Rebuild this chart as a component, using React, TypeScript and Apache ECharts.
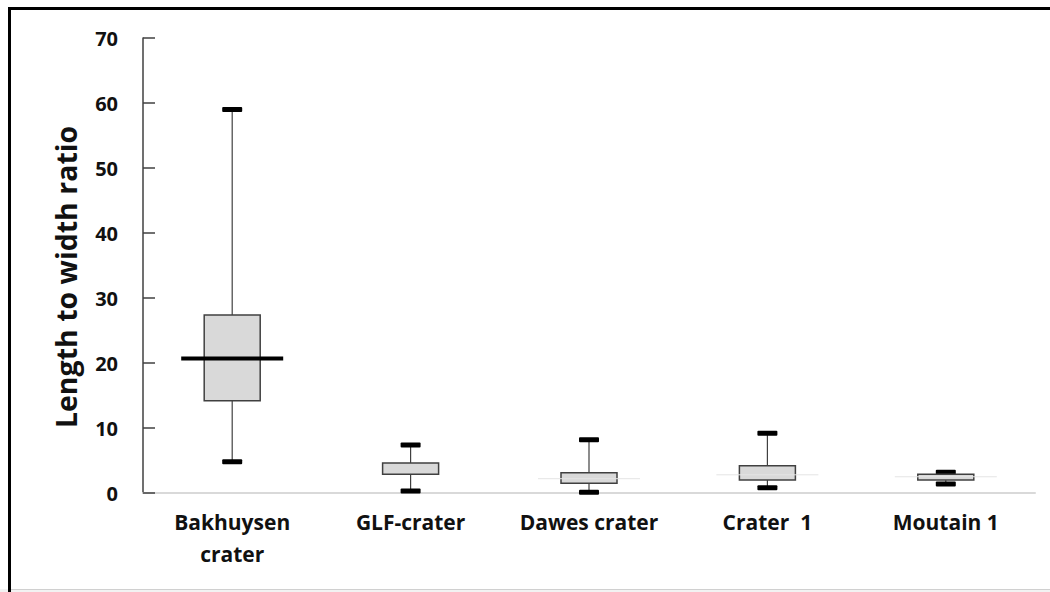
import React, { useEffect, useRef } from "react";
import * as echarts from "echarts";

const categories = ["Bakhuysen\ncrater", "GLF-crater", "Dawes crater", "Crater  1", "Moutain 1"];
const minValues = [4.8, 0.3, 0.1, 0.8, 1.4];
const q1Values = [14.2, 2.9, 1.5, 2.0, 2.0];
const medianValues = [20.7, 3.8, 2.2, 2.8, 2.5];
const q3Values = [27.4, 4.6, 3.1, 4.2, 2.9];
const maxValues = [59.0, 7.4, 8.2, 9.2, 3.2];
const yTicks = [0, 10, 20, 30, 40, 50, 60, 70];
const yTitle = "Length to width ratio";

const medianColors = ["#000000", "rgba(0,0,0,0)", "#e4e4e4", "#e4e4e4", "#e4e4e4"];
const medianWidths = [4, 1, 1, 1, 1];

export default function App() {
  const ref = useRef<HTMLDivElement>(null);
  useEffect(() => {
    if (!ref.current) return;
    const chart = echarts.init(ref.current, null, { renderer: "svg" });
    const data = categories.map((_, i) => [i, minValues[i], q1Values[i], medianValues[i], q3Values[i], maxValues[i]]);
    const font = "'Open Sans', sans-serif";
    chart.setOption({
      animation: false,
      backgroundColor: "#ffffff",
      grid: { left: 143, right: 15, top: 38, bottom: 99, containLabel: false },
      xAxis: {
        type: "category",
        data: categories,
        axisLine: { show: true, lineStyle: { color: "#d9d9d9", width: 2 } },
        axisTick: { show: false },
        axisLabel: {
          color: "#111111",
          fontFamily: font,
          fontWeight: "bold",
          fontSize: 21,
          lineHeight: 32,
          margin: 13,
          interval: 0,
        },
        splitLine: { show: false },
      },
      yAxis: {
        type: "value",
        min: yTicks[0],
        max: yTicks[yTicks.length - 1],
        interval: 10,
        axisLine: { show: true, lineStyle: { color: "#404040", width: 1.5 } },
        axisTick: { show: true, inside: true, length: 12, lineStyle: { color: "#404040", width: 1.5 } },
        axisLabel: {
          color: "#111111",
          fontFamily: font,
          fontWeight: "bold",
          fontSize: 20,
          margin: 25,
        },
        splitLine: { show: false },
      },
      graphic: [
        {
          type: "text",
          x: 66,
          y: 277,
          rotation: Math.PI / 2,
          style: {
            text: yTitle,
            fill: "#111111",
            font: "bold 28.5px 'Open Sans', sans-serif",
            textAlign: "center",
            textVerticalAlign: "middle",
          },
          z: 50,
        },
        { type: "rect", shape: { x: 0, y: 589, width: 1050, height: 3 }, style: { fill: "#f2f2f2" }, z: 100 },
        { type: "rect", shape: { x: 8, y: 589, width: 1042, height: 1 }, style: { fill: "#d0d0d0" }, z: 100 },
        { type: "rect", shape: { x: 8, y: 7, width: 1042, height: 3 }, style: { fill: "#000000" }, z: 101 },
        { type: "rect", shape: { x: 8, y: 7, width: 3, height: 585 }, style: { fill: "#000000" }, z: 101 },
      ],
      series: [
        {
          type: "custom",
          encode: { x: 0, y: [1, 2, 3, 4, 5] },
          data,
          renderItem: (params: any, api: any) => {
            const i = api.value(0);
            const pMin = api.coord([i, api.value(1)]);
            const pQ1 = api.coord([i, api.value(2)]);
            const pMed = api.coord([i, api.value(3)]);
            const pQ3 = api.coord([i, api.value(4)]);
            const pMax = api.coord([i, api.value(5)]);
            const cx = pMin[0];
            const boxW = 56;
            const capW = 20;
            const capH = 5;
            const medW = 102;
            const idx = params.dataIndex;
            return {
              type: "group",
              children: [
                {
                  type: "line",
                  shape: { x1: cx, y1: pMax[1], x2: cx, y2: pMin[1] },
                  style: { stroke: "#404040", lineWidth: 1.2 },
                },
                {
                  type: "rect",
                  shape: { x: cx - capW / 2, y: pMax[1] - capH / 2, width: capW, height: capH, r: 1 },
                  style: { fill: "#000000" },
                },
                {
                  type: "rect",
                  shape: { x: cx - capW / 2, y: pMin[1] - capH / 2, width: capW, height: capH, r: 1 },
                  style: { fill: "#000000" },
                },
                {
                  type: "rect",
                  shape: { x: cx - boxW / 2, y: pQ3[1], width: boxW, height: pQ1[1] - pQ3[1] },
                  style: { fill: "#d9d9d9", stroke: "#404040", lineWidth: 1.5 },
                },
                {
                  type: "line",
                  shape: { x1: cx - medW / 2, y1: pMed[1], x2: cx + medW / 2, y2: pMed[1] },
                  style: { stroke: medianColors[idx], lineWidth: medianWidths[idx] },
                },
              ],
            };
          },
        },
      ],
    });
    return () => chart.dispose();
  }, []);
  return (
    <div
      ref={ref}
      style={{ position: "fixed", left: 0, top: 0, width: 1050, height: 592, background: "#ffffff" }}
    />
  );
}
